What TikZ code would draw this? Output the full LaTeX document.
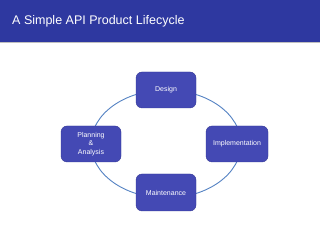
\documentclass[tikz,border=0pt]{standalone}
\usepackage{fontspec}
\setmainfont{Liberation Sans}
\definecolor{barblue}{RGB}{46,56,160}
\definecolor{boxblue}{RGB}{68,73,180}
\definecolor{boxedge}{RGB}{52,57,150}
\definecolor{ringblue}{RGB}{84,130,195}
\begin{document}
\begin{tikzpicture}[x=1pt, y=1pt,
                    stage/.style={draw=boxedge, fill=boxblue, rounded corners=6pt, minimum width=60pt, minimum height=36pt, text=white, font=\fontsize{7}{8.5}\selectfont, align=center, inner sep=1pt}
                    ]

                    \useasboundingbox (0,0) rectangle (320,240);
                    \fill[white] (0,0) rectangle (320,240);
                    \fill[black!25] (0,196.5) rectangle (320,198.5);
                    \fill[barblue] (0,198) rectangle (320,240);
                    \node[anchor=west, text=white, font=\fontsize{12.5}{14}\selectfont, inner sep=0pt] (title) at (12,218.5) {A Simple API Product Lifecycle};

                    \coordinate (ring) at (166,96);
                    \draw[ringblue, line width=0.9pt] (ring) ellipse (75 and 54);

                    \node[stage] (design) at (166,150) {Design};
                    \node[stage, minimum width=62pt] (impl) at (237,96) {Implementation};
                    \node[stage] (plan) at (91,96) {Planning\\\&\\Analysis};
                    \node[stage, minimum height=37pt] (maint) at (166,47.5) {Maintenance};

                \end{tikzpicture}
\end{document}
